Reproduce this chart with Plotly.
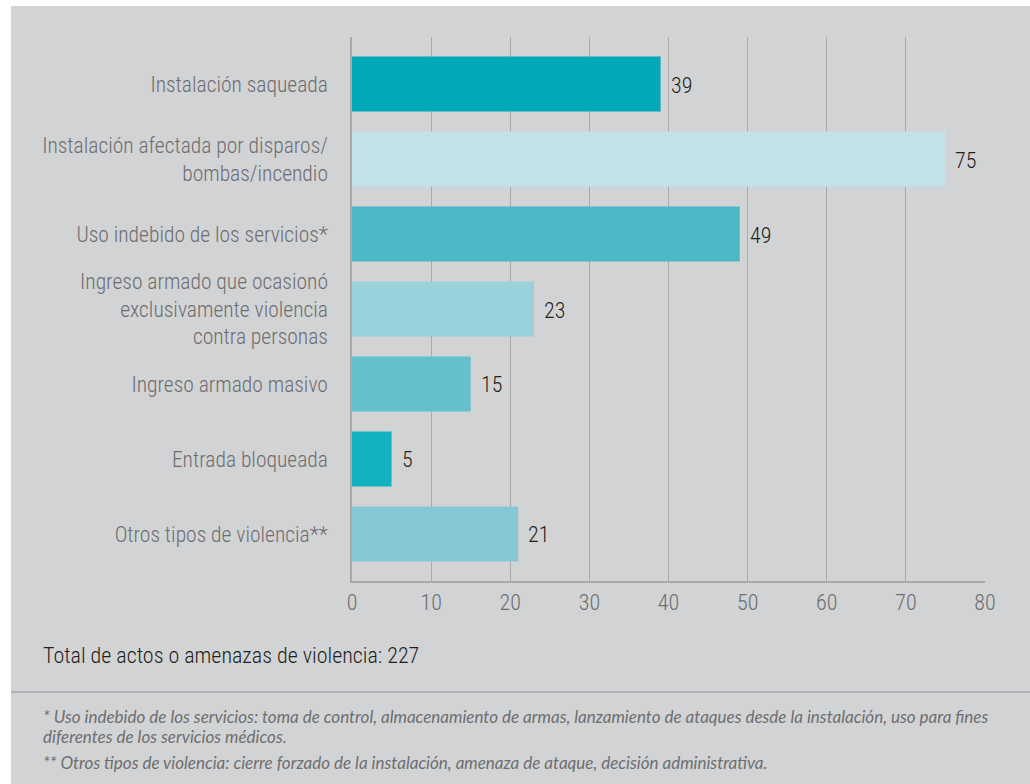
import plotly.graph_objects as go

categories = [
    "Instalación saqueada",
    "Instalación afectada por disparos/<br>bombas/incendio",
    "Uso indebido de los servicios*",
    "Ingreso armado que ocasionó<br>exclusivamente violencia<br>contra personas",
    "Ingreso armado masivo",
    "Entrada bloqueada",
    "Otros tipos de violencia**",
]
values = [39, 75, 49, 23, 15, 5, 21]
bar_colors = ["#02a9b8", "#c3e2e7", "#4ab8c5", "#9ad2db", "#66bfcc", "#13b2c1", "#83c8d3"]
x_ticks = [0, 10, 20, 30, 40, 50, 60, 70, 80]
total_text = "Total de actos o amenazas de violencia: 227"
footnotes = [
    "* Uso indebido de los servicios: toma de control, almacenamiento de armas, lanzamiento de ataques desde la instalación, uso para fines",
    "diferentes de los servicios médicos.",
    "** Otros tipos de violencia: cierre forzado de la instalación, amenaza de ataque, decisión administrativa.",
]

W, H = 1030, 784
L, R, T, B = 352, 985, 37, 581
pw, ph = R - L, B - T

def px(x):
    return (x - L) / pw

def py(y):
    return (B - y) / ph

COND = "Roboto Condensed, Liberation Sans Narrow, Arial Narrow, sans-serif"
BG = "#d2d3d5"
GRID = "#a7a9ab"

fig = go.Figure()
fig.add_trace(go.Bar(
    y=categories, x=values, orientation="h",
    marker=dict(color=bar_colors, line=dict(width=0)),
    width=0.733, hoverinfo="skip",
))

for c, v in zip(categories, values):
    fig.add_annotation(x=v, y=c, xref="x", yref="y", text=str(v), showarrow=False,
                       xanchor="left", xshift=8, yshift=-1,
                       font=dict(family=COND, size=22, color="#231f20", weight=300))

shapes = [
    dict(type="rect", xref="paper", yref="paper", x0=px(11), x1=px(W + 5), y0=py(H + 5), y1=py(6),
         fillcolor=BG, line=dict(width=0), layer="below"),
    dict(type="line", xref="paper", yref="paper", x0=px(11), x1=px(W + 5), y0=py(692), y1=py(692),
         line=dict(color=GRID, width=1.5)),
]
fig.update_layout(shapes=shapes)

fig.add_annotation(xref="paper", yref="paper", x=px(41), y=py(655), xanchor="left", yanchor="middle",
                   text=total_text, showarrow=False,
                   font=dict(family=COND, size=22, color="#231f20", weight=300))
foot_y = [716, 737, 762]
for t, yy in zip(footnotes, foot_y):
    fig.add_annotation(xref="paper", yref="paper", x=px(41), y=py(yy), xanchor="left", yanchor="middle",
                       text="<i>" + t + "</i>", showarrow=False,
                       font=dict(family="Lato, Open Sans, sans-serif", size=17, color="#6d6e70"))

fig.update_layout(
    width=W, height=H,
    margin=dict(l=L, r=W - R, t=T, b=H - B, pad=0),
    paper_bgcolor="white", plot_bgcolor=BG,
    showlegend=False, bargap=0.267,
    xaxis=dict(range=[0, 80], tickvals=x_ticks, showgrid=True, gridcolor=GRID, gridwidth=1,
               zeroline=False, showline=True, linecolor=GRID, linewidth=1.5, mirror=False,
               ticks="", ticklabelstandoff=1,
               tickfont=dict(family=COND, size=22, color="#6d6e70", weight=300), fixedrange=True),
    yaxis=dict(range=[6.627, -0.627], showgrid=False, zeroline=False, showline=True, linecolor=GRID,
               linewidth=1.5, ticks="", ticklabelstandoff=18,
               tickfont=dict(family=COND, size=21.5, color="#6d6e70", weight=300), fixedrange=True),
)

fig.write_html("out.html", config={"displayModeBar": False},
               post_script="document.body.style.margin='0';document.body.style.overflow='hidden';")
